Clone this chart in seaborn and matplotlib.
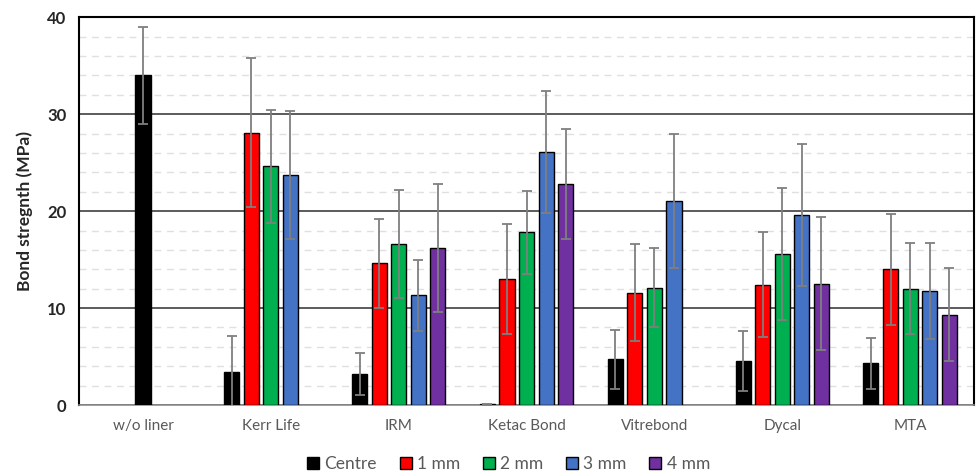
import numpy as np
import pandas as pd
import seaborn as sns
import matplotlib
matplotlib.use('Agg')
import matplotlib.pyplot as plt
from matplotlib.ticker import MultipleLocator

liners = ['w/o liner', 'Kerr Life', 'IRM', 'Ketac Bond', 'Vitrebond', 'Dycal', 'MTA']
depths = ['Centre', '1 mm', '2 mm', '3 mm', '4 mm']
colors = ['#000000', '#ff0000', '#00b050', '#4472c4', '#7030a0']

# mean bond strength (MPa) per liner, one list per depth (None = not tested)
# the control (w/o liner) sits in the middle slot and is drawn black
centre = [None, 3.4, 3.2, 0.1, 4.7, 4.5, 4.3]
mm1 = [None, 28.1, 14.6, 13.0, 11.6, 12.4, 14.0]
mm2 = [34.0, 24.6, 16.6, 17.8, 12.1, 15.6, 12.0]
mm3 = [None, 23.7, 11.3, 26.1, 21.0, 19.6, 11.8]
mm4 = [None, None, 16.2, 22.8, None, 12.5, 9.3]

# standard deviations
centre_sd = [None, 3.7, 2.2, 0.05, 3.0, 3.1, 2.6]
mm1_sd = [None, 7.7, 4.6, 5.7, 5.0, 5.4, 5.7]
mm2_sd = [5.0, 5.8, 5.6, 4.3, 4.1, 6.8, 4.7]
mm3_sd = [None, 6.6, 3.7, 6.3, 6.9, 7.3, 4.95]
mm4_sd = [None, None, 6.6, 5.7, None, 6.85, 4.8]

rows = []
for d, vals, sds in zip(depths, [centre, mm1, mm2, mm3, mm4],
                        [centre_sd, mm1_sd, mm2_sd, mm3_sd, mm4_sd]):
    for l, v, s in zip(liners, vals, sds):
        if v is not None:
            rows.append({'liner': l, 'depth': d, 'mean': v, 'sd': s})
df = pd.DataFrame(rows)

sns.set_style('white')
plt.rcParams['font.family'] = ['Lato', 'DejaVu Sans']

fig = plt.figure(figsize=(9.76, 4.76), dpi=100)
ax = fig.add_axes([0.081, 0.149, 0.917, 0.815])

sns.barplot(data=df, x='liner', y='mean', hue='depth', order=liners,
            hue_order=depths, palette=colors, saturation=1, width=0.766, gap=0.23,
            edgecolor='black', linewidth=1, errorbar=None, ax=ax, zorder=3)

# error bars on each drawn bar, matched back to the table
for p in ax.patches:
    cx = p.get_x() + p.get_width() / 2
    h = p.get_height()
    cat = liners[int(round(cx))]
    sub = df[(df['liner'] == cat) & (np.isclose(df['mean'], h))]
    if len(sub) == 0:
        continue
    sd = sub['sd'].iloc[0]
    if cat == 'w/o liner':
        p.set_facecolor('black')
    ax.errorbar(cx, h, yerr=sd, fmt='none', ecolor='#7f7f7f', elinewidth=1.3,
                capsize=3.5, capthick=1.3, zorder=4)

ax.set_ylim(0, 40)
ax.set_xlim(-0.5, len(liners) - 0.5)
ax.yaxis.set_major_locator(MultipleLocator(10))
ax.yaxis.set_minor_locator(MultipleLocator(2))
ax.grid(axis='y', which='major', color='#404040', linewidth=1.2, zorder=0)
ax.grid(axis='y', which='minor', color='#e0e0e0', linewidth=1, linestyle=(0, (5, 4)), zorder=0)
ax.set_axisbelow(True)

for side in ['left', 'top', 'right']:
    ax.spines[side].set_color('black')
    ax.spines[side].set_linewidth(1.5)
ax.spines['bottom'].set_color('#8c8c8c')
ax.spines['bottom'].set_linewidth(1.2)

ax.tick_params(axis='y', which='major', direction='out', length=5, width=1,
               color='#404040', labelsize=12, pad=4)
ax.tick_params(axis='y', which='minor', length=0)
ax.tick_params(axis='x', length=0, labelsize=11, labelcolor='#595959', pad=10)
for t in ax.get_yticklabels():
    t.set_fontweight('bold')

ax.set_xlabel('')
ax.set_ylabel('Bond stregnth (MPa)', fontsize=12.5, fontweight='bold', labelpad=10)

handles, labels = ax.get_legend_handles_labels()
ax.legend(handles, labels, loc='center', bbox_to_anchor=(0.48, -0.152), ncol=5,
          frameon=False, fontsize=12.5, handlelength=0.7, handleheight=0.7,
          handletextpad=0.3, columnspacing=1.3, labelcolor='#595959')

fig.savefig('out.png', dpi=100)
